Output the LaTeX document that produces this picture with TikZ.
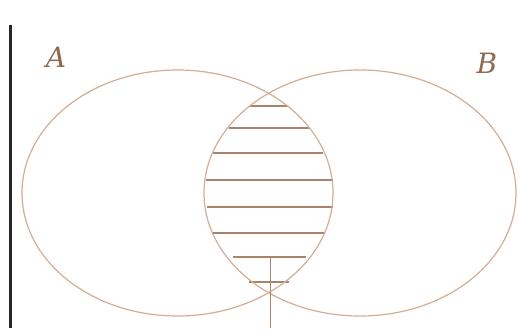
\documentclass[tikz,border=0pt]{standalone}
\usepackage{fontspec}
\newfontfamily\labfont{DejaVu Serif}
\begin{document}
\begin{tikzpicture}[x=1pt,y=-1pt,
  setline/.style={draw=setcol,line width=1.2pt},
  hatchline/.style={draw=hatchcol,line width=1.4pt},
  setlabel/.style={text=labcol,font=\labfont\fontsize{28}{28}\selectfont\itshape,inner sep=0pt}]
\definecolor{setcol}{HTML}{D2AE96}
\definecolor{hatchcol}{HTML}{A8846C}
\definecolor{labcol}{HTML}{8E6A4E}
\useasboundingbox (0,0) rectangle (518,331);
\fill[white] (0,0) rectangle (518,331);
% hatching inside the lens
\foreach \yy/\xa/\xb in {106/250/288,128/229/310,153/212/323,180/206/333,207/207/333,233/213/325,257/233/306,282/249/289}
  \draw[hatchline] (\xa,\yy) -- (\xb,\yy);
\draw[setline] (177.5,193) ellipse [x radius=155.5, y radius=123];
\draw[setline] (360,193) ellipse [x radius=156, y radius=123];
\coordinate (ptop) at (270.7,257);
\coordinate (pbot) at (270.7,328);
\draw[hatchline] (ptop) -- (pbot);
\coordinate (btop) at (10,25);
\coordinate (bbot) at (10,328);
\draw[line width=3pt,black!85] (btop) -- (bbot);
\node[setlabel] (A) at (56,57) {A};
\node[setlabel] (B) at (487,63) {B};
\end{tikzpicture}
\end{document}
